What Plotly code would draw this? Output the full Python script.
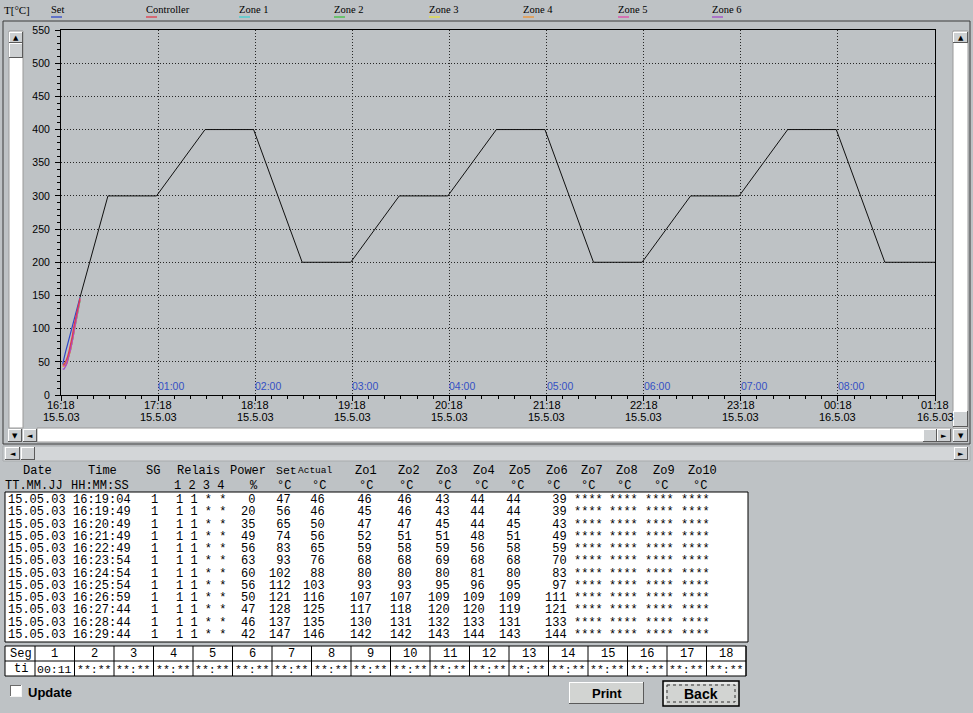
import plotly.graph_objects as go

W, H = 973, 713
BG = "#BEC2C5"
MONO = "Liberation Mono, Courier New, monospace"
SANS = "Liberation Sans, Arial, sans-serif"
SERIF = "Liberation Serif, Times New Roman, serif"

# ---------------- data ----------------
row_dates = ["15.05.03", "15.05.03", "15.05.03", "15.05.03", "15.05.03", "15.05.03",
             "15.05.03", "15.05.03", "15.05.03", "15.05.03", "15.05.03", "15.05.03"]
row_times = ["16:19:04", "16:19:49", "16:20:49", "16:21:49", "16:22:49", "16:23:54",
             "16:24:54", "16:25:54", "16:26:59", "16:27:44", "16:28:44", "16:29:44"]
row_sg = ["1", "1", "1", "1", "1", "1", "1", "1", "1", "1", "1", "1"]
row_relais = ["1 1 * *", "1 1 * *", "1 1 * *", "1 1 * *", "1 1 * *", "1 1 * *",
              "1 1 * *", "1 1 * *", "1 1 * *", "1 1 * *", "1 1 * *", "1 1 * *"]
power = [0, 20, 35, 49, 56, 63, 60, 56, 50, 47, 46, 42]
set_vals = [47, 56, 65, 74, 83, 93, 102, 112, 121, 128, 137, 147]
ctrl_vals = [46, 46, 50, 56, 65, 76, 88, 103, 116, 125, 135, 146]
zo1 = [46, 45, 47, 52, 59, 68, 80, 93, 107, 117, 130, 142]
zo2 = [46, 46, 47, 51, 58, 68, 80, 93, 107, 118, 131, 142]
zo3 = [43, 43, 45, 51, 59, 69, 80, 95, 109, 120, 132, 143]
zo4 = [44, 44, 44, 48, 56, 68, 81, 96, 109, 120, 133, 144]
zo5 = [44, 44, 45, 51, 58, 68, 80, 95, 109, 119, 131, 143]
zo6 = [39, 39, 43, 49, 59, 70, 83, 97, 111, 121, 133, 144]
zo_missing = ["****", "****", "****", "****", "****", "****",
              "****", "****", "****", "****", "****", "****"]

prog_times = ["2003-05-15 16:29:44", "2003-05-15 16:47", "2003-05-15 17:17", "2003-05-15 17:47",
              "2003-05-15 18:17", "2003-05-15 18:47", "2003-05-15 19:17", "2003-05-15 19:47",
              "2003-05-15 20:17", "2003-05-15 20:47", "2003-05-15 21:17", "2003-05-15 21:47",
              "2003-05-15 22:17", "2003-05-15 22:47", "2003-05-15 23:17", "2003-05-15 23:47",
              "2003-05-16 00:17", "2003-05-16 00:47", "2003-05-16 01:18"]
prog_vals = [147, 300, 300, 400, 400, 200, 200, 300, 300, 400, 400, 200, 200,
             300, 300, 400, 400, 200, 200]

tick_times = ["2003-05-15 16:18", "2003-05-15 17:18", "2003-05-15 18:18", "2003-05-15 19:18",
              "2003-05-15 20:18", "2003-05-15 21:18", "2003-05-15 22:18", "2003-05-15 23:18",
              "2003-05-16 00:18", "2003-05-16 01:18"]
tick_hours = ["16:18", "17:18", "18:18", "19:18", "20:18", "21:18", "22:18", "23:18", "00:18", "01:18"]
tick_dates = ["15.5.03", "15.5.03", "15.5.03", "15.5.03", "15.5.03", "15.5.03", "15.5.03",
              "15.5.03", "16.5.03", "16.5.03"]
elapsed_labels = ["01:00", "02:00", "03:00", "04:00", "05:00", "06:00", "07:00", "08:00"]

legend_names = ["Set", "Controller", "Zone 1", "Zone 2", "Zone 3", "Zone 4", "Zone 5", "Zone 6"]
legend_colors = ["#2F47C8", "#E23A4A", "#3FD0D0", "#3EC23E", "#E6E23A", "#F0922E", "#E04AA8", "#A24AC8"]

seg_numbers = ["1", "2", "3", "4", "5", "6", "7", "8", "9", "10", "11", "12", "13", "14",
               "15", "16", "17", "18"]
seg_times = ["00:11", "**:**", "**:**", "**:**", "**:**", "**:**", "**:**", "**:**", "**:**",
             "**:**", "**:**", "**:**", "**:**", "**:**", "**:**", "**:**", "**:**", "**:**"]

# ---------------- helpers ----------------
def X(x):
    return x / W


def Y(y):
    return 1 - y / H


shapes = []
annots = []


def rect(x0, y0, x1, y1, fill=None, line=None, lw=1, dash=None):
    d = dict(type="rect", xref="paper", yref="paper", x0=X(x0), x1=X(x1), y0=Y(y0), y1=Y(y1),
             layer="above", line=dict(width=lw if line else 0, color=line or "rgba(0,0,0,0)"))
    if dash:
        d["line"]["dash"] = dash
    if fill:
        d["fillcolor"] = fill
    shapes.append(d)


def hline(x0, x1, y, color="black", lw=1, dash=None):
    d = dict(type="line", xref="paper", yref="paper", x0=X(x0), x1=X(x1), y0=Y(y), y1=Y(y),
             layer="above", line=dict(color=color, width=lw))
    if dash:
        d["line"]["dash"] = dash
    shapes.append(d)


def vline(x, y0, y1, color="black", lw=1, dash=None):
    d = dict(type="line", xref="paper", yref="paper", x0=X(x), x1=X(x), y0=Y(y0), y1=Y(y1),
             layer="above", line=dict(color=color, width=lw))
    if dash:
        d["line"]["dash"] = dash
    shapes.append(d)


def text(x, y, s, size=12, family=MONO, color="black", anchor="left", bold=False):
    if bold:
        s = "<b>" + s + "</b>"
    annots.append(dict(x=X(x), y=Y(y), xref="paper", yref="paper", text=s, showarrow=False,
                       xanchor=anchor, yanchor="middle", borderpad=0, align=anchor,
                       font=dict(family=family, size=size, color=color)))


def column(x, y_mid, vals, anchor, size=12, pitch=12.25):
    # one multi-line text per column; line pitch set by the base font size (1.3 em)
    body = "<br>".join("<span style='font-size:%gpx'>%s</span>" % (size, v) for v in vals)
    annots.append(dict(x=X(x), y=Y(y_mid), xref="paper", yref="paper", text=body, showarrow=False,
                       xanchor=anchor, yanchor="middle", borderpad=0, align=anchor,
                       font=dict(family=MONO, size=pitch / 1.3, color="black")))


def button(x0, y0, x1, y1, face="#CDD0D2", glyph=None):
    rect(x0, y0, x1, y1, fill=face)
    hline(x0, x1, y0 + 0.5, "#FFFFFF")
    vline(x0 + 0.5, y0, y1, "#FFFFFF")
    hline(x0, x1, y1 - 0.5, "#5A5A5A")
    vline(x1 - 0.5, y0, y1, "#5A5A5A")
    if glyph:
        text((x0 + x1) / 2, (y0 + y1) / 2, glyph, size=7, family="DejaVu Sans", anchor="center")


# ---------------- legend header ----------------
text(3, 10, "T[°C]", size=11, family=SERIF)
leg_x = [50, 145, 238, 333, 428, 522, 617, 711]
for name, col, lx in zip(legend_names, legend_colors, leg_x):
    text(lx, 9, name, size=10.5, family=SERIF)
    hline(lx + 1, lx + 12, 17, col, lw=1.3)

# ---------------- chart frame & scrollbars ----------------
rect(3, 21, 970, 444, line="#3A3A3A")
rect(9, 31, 23, 428, fill="#FFFFFF", line="#9A9A9A")
button(9, 32, 23, 43, glyph="▲")
button(9, 43, 23, 58)
rect(953, 31, 968, 428, fill="#FFFFFF", line="#9A9A9A")
button(953, 32, 968, 43, glyph="▲")
button(953, 411, 968, 427)
rect(37, 428, 951, 442, fill="#FFFFFF", line="#9A9A9A")
button(8, 429, 22, 442, glyph="▼")
button(23, 429, 37, 442, glyph="◄")
button(923, 429, 937, 442)
button(937, 429, 951, 442, glyph="►")
button(953, 429, 968, 442, glyph="▼")
rect(3, 446, 970, 461, fill="#D3D6D8", line="#A8ABAD")
button(5, 447, 20, 460, glyph="◄")
button(21, 447, 35, 460)
button(954, 447, 968, 460, glyph="►")

# ---------------- chart traces ----------------
fig = go.Figure()
fig.add_trace(go.Scatter(x=prog_times, y=prog_vals, mode="lines",
                         line=dict(color="#101010", width=1), hoverinfo="skip"))
row_x = ["2003-05-15 " + t for t in row_times]
for vals, col in zip([zo1, zo2, zo3, zo4, zo5, zo6], legend_colors[2:]):
    fig.add_trace(go.Scatter(x=row_x, y=vals, mode="lines", line=dict(color=col, width=1.2)))
fig.add_trace(go.Scatter(x=row_x, y=set_vals, mode="lines", line=dict(color=legend_colors[0], width=1.2)))
fig.add_trace(go.Scatter(x=row_x, y=ctrl_vals, mode="lines", line=dict(color=legend_colors[1], width=1.2)))

# x tick labels (two lines) placed on the time axis
for t, hr, dt in zip(tick_times, tick_hours, tick_dates):
    annots.append(dict(x=t, y=Y(404.5), xref="x", yref="paper", text=hr, showarrow=False,
                       xanchor="center", yanchor="middle", borderpad=0,
                       font=dict(family=SANS, size=11, color="black")))
    annots.append(dict(x=t, y=Y(417), xref="x", yref="paper", text=dt, showarrow=False,
                       xanchor="center", yanchor="middle", borderpad=0,
                       font=dict(family=SANS, size=11, color="black")))

# elapsed-time labels inside the plot
for t, lab in zip(tick_times[1:9], elapsed_labels):
    annots.append(dict(x=t, y=0, xref="x", yref="y", text=lab, showarrow=False,
                       xanchor="left", yanchor="bottom", yshift=2, xshift=-1, borderpad=0,
                       font=dict(family=SANS, size=10.5, color="#3450C4")))

# ---------------- data table ----------------
hdr1 = [("Date", 22, "left"), ("Time", 87, "left"), ("SG", 145, "left"), ("Relais", 176, "left"),
        ("Power", 229, "left")]
zo_hdr_x = [354, 397, 435, 472, 508, 545, 580, 615, 652, 687]
for i, zx in enumerate(zo_hdr_x):
    hdr1.append(("Zo" + str(i + 1), zx, "left"))
for s, x, a in hdr1:
    text(x, 471, s, anchor=a)
text(275, 471, "Set", anchor="left", size=11.5)
text(297, 471, "Actual", anchor="left", size=9.5)

hdr2 = [("TT.MM.JJ", 4, "left"), ("HH:MM:SS", 70, "left"), ("1 2 3 4", 173, "left"),
        ("%", 254, "center")]
deg_x = [284, 319, 366, 406, 444, 481, 517, 553, 588, 624, 661, 700]
for dx in deg_x:
    hdr2.append(("°C", dx, "center"))
for s, x, a in hdr2:
    text(x, 485.5, s, anchor=a)

rect(5, 492, 748, 642, fill="#FFFFFF", line="black")

columns = [
    (row_dates, 7, "left"), (row_times, 72, "left"), (row_sg, 154, "center"),
    (row_relais, 175, "left"), (power, 256, "right"), (set_vals, 292, "right"),
    (ctrl_vals, 326, "right"), (zo1, 373, "right"), (zo2, 413, "right"), (zo3, 451, "right"),
    (zo4, 486, "right"), (zo5, 522, "right"), (zo6, 568, "right"),
    (zo_missing, 573, "left"), (zo_missing, 608, "left"), (zo_missing, 644, "left"),
    (zo_missing, 680, "left"),
]
y_mid = 500.5 + 12.25 * 5.5
for vals, x, a in columns:
    column(x, y_mid, vals, a)

# ---------------- segment table ----------------
rect(5, 646, 746, 676, fill="#FFFFFF", line="black")
hline(5, 746, 661, "black")
vline(35, 646, 676, "black")
for k in range(len(seg_numbers)):
    vline(35 + 39.5 * (k + 1), 646, 676, "black")
text(9, 654, "Seg")
text(13, 669, "ti")
for k, (n, t) in enumerate(zip(seg_numbers, seg_times)):
    cx = 35 + 39.5 * (k + 0.5)
    text(cx, 654, n, anchor="center")
    text(cx, 669, t, anchor="center", size=11.5)

# ---------------- bottom controls ----------------
rect(10, 685, 22, 697, fill="#FFFFFF")
hline(10, 22, 685.5, "#6A6A6A")
vline(10.5, 685, 697, "#6A6A6A")
hline(10, 22, 696.5, "#F4F4F4")
vline(21.5, 685, 697, "#F4F4F4")
text(27, 692.5, "Update", size=13, family=SANS, bold=True)

button(569, 682, 644, 704, face="#D2D4D2")
text(606.5, 693, "Print", size=13, family=SANS, bold=True, anchor="center")

rect(663, 681, 739, 706, fill="#D2D4D2", line="black", lw=1.5)
hline(665, 737, 683, "#FFFFFF")
vline(665, 683, 704, "#FFFFFF")
rect(667, 685, 735, 702, line="#303030", dash="dot")
text(701, 694, "Back", size=14, family=SANS, bold=True, anchor="center")

# ---------------- layout ----------------
fig.update_layout(
    width=W, height=H, margin=dict(l=0, r=0, t=0, b=0),
    paper_bgcolor=BG, plot_bgcolor=BG, showlegend=False,
    shapes=shapes, annotations=annots,
    xaxis=dict(
        type="date", domain=[61 / W, 935 / W], range=[tick_times[0], tick_times[-1]],
        tickmode="array", tickvals=tick_times, showticklabels=False,
        ticks="outside", ticklen=5, tickwidth=1, tickcolor="black",
        showline=True, linecolor="black", linewidth=1, mirror=True,
        showgrid=True, gridcolor="#262626", gridwidth=1, griddash="1px,2px",
        zeroline=False, automargin=False, fixedrange=True,
        minor=dict(tick0=tick_times[0], dtick=600000, ticks="outside", ticklen=3,
                   tickcolor="black", showgrid=False),
    ),
    yaxis=dict(
        domain=[1 - 395 / H, 1 - 30 / H], range=[0, 550], tick0=0, dtick=50,
        ticks="outside", ticklen=5, tickwidth=1, tickcolor="black",
        showline=True, linecolor="black", linewidth=1, mirror=True,
        showgrid=True, gridcolor="#262626", gridwidth=1, griddash="1px,2px",
        zeroline=False, automargin=False, fixedrange=True, ticklabelstandoff=3,
        tickfont=dict(family=SANS, size=10.5, color="black"),
        minor=dict(dtick=10, ticks="outside", ticklen=3, tickcolor="black", showgrid=False),
    ),
)

fig.write_html("out.html", config={"displayModeBar": False},
               post_script="document.body.style.margin='0';document.body.style.overflow='hidden';")
